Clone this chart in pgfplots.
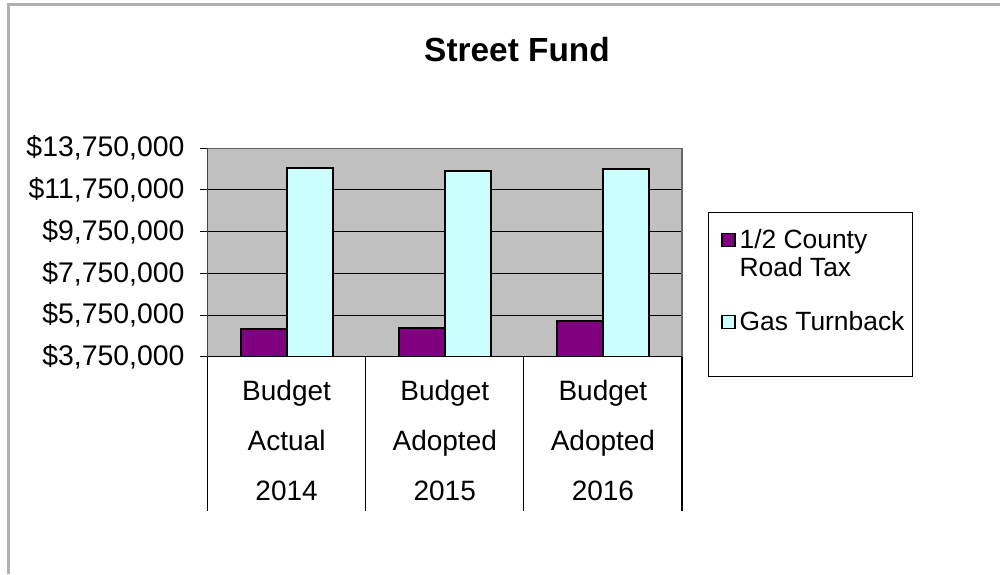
\documentclass[border=0pt]{standalone}
\usepackage{fontspec}
\setmainfont{Liberation Sans}
\usepackage{pgfplots}
\pgfplotsset{compat=1.18}
\definecolor{roadtax}{RGB}{128,0,128}
\definecolor{gasturn}{RGB}{204,255,255}
\definecolor{plotbg}{RGB}{192,192,192}
\definecolor{frame}{RGB}{176,176,176}

\begin{document}
\begin{tikzpicture}
\useasboundingbox (0,0) rectangle (500pt,287pt);
\draw[frame, line width=1.5pt] (4pt,0) -- (4pt,284.5pt) -- (500pt,284.5pt);
\node[font=\bfseries\fontsize{16.7}{20}\selectfont] at (258.5pt,262pt) {Street Fund};

\begin{axis}[
    at={(103.75pt,108.65pt)}, anchor=south west,
    scale only axis, width=237.25pt, height=104.2pt,
    ybar=0pt, bar width=23pt,
    xmin=0.5, xmax=3.5, ymin=3.75, ymax=13.75,
    axis background/.style={fill=plotbg},
    axis line style={draw=gray!80!black, line width=0.6pt},
    ymajorgrids, grid style={black, line width=0.5pt},
    tick align=outside, major tick length=4pt,
    ytick pos=left, xtick pos=bottom,
    ytick={3.75,5.75,7.75,9.75,11.75,13.75},
    yticklabels={{\$3,750,000},{\$5,750,000},{\$7,750,000},{\$9,750,000},{\$11,750,000},{\$13,750,000}},
    ytick style={black, line width=0.5pt},
    yticklabel style={font=\fontsize{14.2}{16}\selectfont, xshift=-4pt},
    xtick={1,2,3},
    xticklabels={{Budget\\Actual\\2014},{Budget\\Adopted\\2015},{Budget\\Adopted\\2016}},
    xtick style={draw=none},
    xticklabel style={font=\fontsize{14}{25}\selectfont, align=center, yshift=-4pt},
    legend style={draw=none, fill=none, at={(1.0695,0.653)}, anchor=north west,
        font=\fontsize{13.2}{14}\selectfont, row sep=12pt,
        nodes={align=left}},
    legend cell align=left,
]
\addplot[fill=roadtax, draw=black, line width=1pt,
    legend image code/.code={\draw[fill=roadtax, draw=black, line width=0.6pt] (0pt,3.75pt) rectangle (6.5pt,10.25pt);}]
    coordinates {(1,5.08) (2,5.14) (3,5.46)};
\addplot[fill=gasturn, draw=black, line width=1pt,
    legend image code/.code={\draw[fill=gasturn, draw=black, line width=0.6pt] (0pt,-3.25pt) rectangle (6.5pt,3.25pt);}]
    coordinates {(1,12.79) (2,12.67) (3,12.74)};
\addlegendentry{1/2 County\\Road Tax}
\addlegendentry{Gas Turnback}
\draw[black, line width=0.6pt] (rel axis cs:0,0) -- (rel axis cs:0,1);
\draw[black, line width=0.6pt] (rel axis cs:0,0) -- (rel axis cs:1,0);
\coordinate (s0) at (axis cs:0.5,3.75);
\coordinate (s1) at (axis cs:1.5,3.75);
\coordinate (s2) at (axis cs:2.5,3.75);
\coordinate (s3) at (axis cs:3.5,3.75);
\end{axis}
\foreach \s in {s0,s1,s2,s3}
    \draw[black, line width=0.6pt] (\s) -- ++(0,-77pt);
\draw[black, line width=0.6pt] (354.2pt,98.7pt) rectangle (456.2pt,180.9pt);
\end{tikzpicture}
\end{document}
